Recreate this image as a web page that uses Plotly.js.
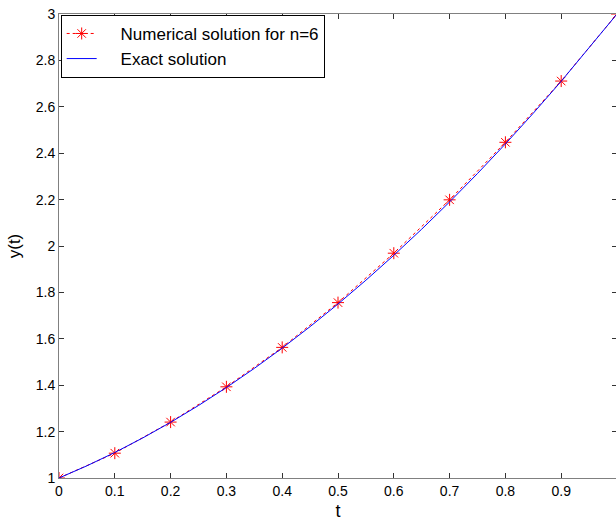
<!DOCTYPE html>
<html><head><meta charset="utf-8">
<script src="https://cdn.plot.ly/plotly-3.0.1.min.js"></script>
<style>html,body{margin:0;padding:0;overflow:hidden;background:#fff;width:616px;height:521px}#chart{width:620px;height:521px}</style>
</head><body><div id="chart"></div>
<script>
var tNum = [0, 0.1, 0.2, 0.3, 0.4, 0.5, 0.6, 0.7, 0.8, 0.9, 1.0];
var yNum = [1.0, 1.107, 1.241, 1.393, 1.563, 1.756, 1.969, 2.199, 2.447, 2.711, 3.0];
var tExact = [0, 0.05, 0.1, 0.15, 0.2, 0.25, 0.3, 0.35, 0.4, 0.45, 0.5, 0.55, 0.6, 0.65, 0.7, 0.75, 0.8, 0.85, 0.9, 0.95, 1.0];
var yExact = [1.0, 1.0525, 1.11, 1.1725, 1.24, 1.3125, 1.39, 1.4725, 1.56, 1.6525, 1.75, 1.8525, 1.96, 2.0725, 2.19, 2.3125, 2.44, 2.5725, 2.71, 2.8525, 3.0];
var xTicks = [0, 0.1, 0.2, 0.3, 0.4, 0.5, 0.6, 0.7, 0.8, 0.9, 1];
var xTickText = ['0','0.1','0.2','0.3','0.4','0.5','0.6','0.7','0.8','0.9','1'];
var yTicks = [1, 1.2, 1.4, 1.6, 1.8, 2, 2.2, 2.4, 2.6, 2.8, 3];
var yTickText = ['1', '1.2', '1.4', '1.6', '1.8', '2', '2.2', '2.4', '2.6', '2.8', '3'];

var font = 'Arial, "Liberation Sans", sans-serif';
var pad = '\u00a0\u00a0\u00a0\u00a0';
var traces = [
  {x: tNum, y: yNum, mode: 'lines+markers', name: pad + 'Numerical solution for n=6',
   line: {color: '#ff0000', width: 1, dash: 'dot'},
   marker: {symbol: 'asterisk-open', size: 10, color: '#ff0000', line: {color: '#ff0000', width: 1}}},
  {x: tExact, y: yExact, mode: 'lines', name: pad + 'Exact solution',
   line: {color: '#0000ff', width: 1}}
];
var axisCommon = {
  showgrid: false, zeroline: false, showline: true, linecolor: '#808080', linewidth: 1,
  mirror: 'ticks', ticks: 'inside', ticklen: 5, tickcolor: '#333', tickwidth: 1,
  tickfont: {family: font, size: 14, color: '#000'}
};
var layout = {
  width: 620, height: 521,
  margin: {l: 59, r: 3, t: 14, b: 43},
  paper_bgcolor: '#fff', plot_bgcolor: '#fff',
  showlegend: true,
  legend: {x: 0.003, y: 0.998, xanchor: 'left', yanchor: 'top', bgcolor: '#fff',
    bordercolor: '#000', borderwidth: 1, font: {family: font, size: 17, color: '#000'},
    tracegroupgap: 0},
  xaxis: Object.assign({}, axisCommon, {range: [0, 1], tickvals: xTicks, ticktext: xTickText,
    title: {text: 't', font: {family: font, size: 18, color: '#000'}, standoff: 6}}),
  yaxis: Object.assign({}, axisCommon, {range: [1, 3], tickvals: yTicks, ticktext: yTickText,
    title: {text: 'y(t)', font: {family: font, size: 17, color: '#000'}, standoff: 10}})
};
Plotly.newPlot('chart', traces, layout, {displayModeBar: false, staticPlot: true});
</script></body></html>
